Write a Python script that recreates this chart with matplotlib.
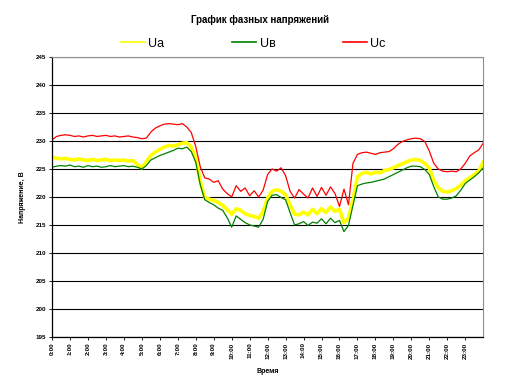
from matplotlib import pyplot as plt
import numpy as np

plt.rcParams['font.family'] = ['Liberation Sans', 'DejaVu Sans']

# phase voltages, one reading every 15 min from 0:00 to 24:00
Ua = [227.1, 226.9, 226.8, 226.9, 226.7, 226.6, 226.8, 226.6, 226.5, 226.7,
      226.5, 226.6, 226.7, 226.5, 226.6, 226.5, 226.6, 226.4, 226.5, 225.8,
      225.2, 226.3, 227.4, 228.0, 228.5, 228.9, 229.2, 229.1, 229.3, 229.6,
      229.7, 228.9, 227.0, 222.8, 219.9, 219.6, 219.4, 219.0, 218.5, 217.7,
      216.9, 217.9, 217.6, 217.0, 216.7, 216.5, 216.2, 217.4, 219.8, 221.0,
      221.3, 221.0, 220.4, 218.6, 216.9, 216.8, 217.3, 216.8, 217.8, 217.0,
      217.9, 217.2, 218.2, 217.4, 217.8, 215.4, 216.2, 219.5, 223.6, 224.2,
      224.4, 224.1, 224.4, 224.3, 224.7, 224.9, 225.2, 225.6, 225.9, 226.3,
      226.6, 226.7, 226.5, 226.0, 225.1, 223.0, 221.6, 221.0, 220.9, 221.1,
      221.5, 222.1, 222.9, 223.4, 224.0, 224.6, 226.2]
Ub = [225.3, 225.5, 225.6, 225.5, 225.7, 225.4, 225.5, 225.3, 225.6, 225.4,
      225.5, 225.3, 225.4, 225.6, 225.4, 225.5, 225.6, 225.4, 225.5, 225.3,
      225.0, 225.6, 226.6, 227.0, 227.4, 227.7, 228.0, 228.3, 228.7, 228.6,
      228.9, 228.1, 226.2, 222.2, 219.5, 219.0, 218.6, 218.0, 217.6, 216.3,
      214.6, 216.6, 216.0, 215.4, 215.0, 214.8, 214.6, 216.0, 219.2, 220.3,
      220.4, 219.9, 219.5, 217.2, 215.0, 215.2, 215.6, 214.9, 215.5, 215.3,
      216.1, 215.2, 216.2, 215.4, 215.8, 213.8, 214.9, 218.5, 222.0, 222.3,
      222.5, 222.6, 222.8, 223.0, 223.2, 223.6, 224.0, 224.4, 224.8, 225.2,
      225.5, 225.5, 225.4, 224.9, 224.0, 221.8, 220.0, 219.6, 219.6, 219.8,
      220.2, 221.2, 222.4, 223.0, 223.6, 224.3, 225.2]
Uc = [230.2, 230.8, 231.0, 231.1, 231.0, 230.8, 230.9, 230.7, 230.9, 231.0,
      230.8, 230.9, 231.0, 230.8, 230.9, 230.7, 230.8, 230.9, 230.7, 230.6,
      230.4, 230.5, 231.6, 232.3, 232.7, 233.0, 233.1, 233.0, 232.9, 233.1,
      232.5, 231.5, 229.0, 225.4, 223.4, 223.2, 222.6, 222.9, 221.4, 220.6,
      220.0, 222.0, 221.0, 221.6, 220.2, 221.1, 220.0, 221.2, 224.0, 225.0,
      224.6, 225.2, 223.8, 221.0, 219.8, 221.3, 220.5, 219.8, 221.6, 220.1,
      221.7, 220.3, 221.8, 220.6, 218.3, 221.4, 218.6, 226.0, 227.6, 227.9,
      228.0, 227.8, 227.6, 227.9, 228.0, 228.1, 228.6, 229.4, 229.9, 230.2,
      230.4, 230.5, 230.4, 229.9, 228.2, 226.0, 225.0, 224.6, 224.5, 224.6,
      224.5, 225.0, 226.0, 227.3, 227.9, 228.4, 229.6]
t = np.arange(len(Ua)) * 0.25          # hours

hours = list(range(24))
hour_labels = [str(h) + ':00' for h in hours]
yticks = list(range(195, 250, 5))

fig = plt.figure(figsize=(5.31, 3.85), dpi=100)
ax = fig.add_axes([0.098, 0.125, 0.812, 0.727])

ax.plot(t, Ua, color='#FFFF00', lw=2.6, label='Ua')
ax.plot(t, Ub, color='#008000', lw=0.9, label='Uв')
ax.plot(t, Uc, color='#FF0000', lw=0.9, label='Uc')

ax.set_xlim(0, 24)
ax.set_ylim(195, 245)
ax.set_yticks(yticks)
ax.set_yticklabels([str(v) for v in yticks], fontsize=4.5, fontweight='bold')
ax.set_xticks(hours)
ax.set_xticklabels(hour_labels, rotation=90, fontsize=4.5, fontweight='bold')
ax.tick_params(length=2, width=0.6, pad=2)
ax.grid(axis='y', color='black', lw=0.8)
ax.set_axisbelow(True)
for s in ['top', 'right']:
    ax.spines[s].set_color('#909090')
    ax.spines[s].set_linewidth(0.8)
for s in ['left', 'bottom']:
    ax.spines[s].set_color('black')
    ax.spines[s].set_linewidth(0.9)

ax.set_ylabel('Напряжение, В', fontsize=5, fontweight='bold', labelpad=7)
ax.set_xlabel('Время', fontsize=5, fontweight='bold')
ax.xaxis.set_label_coords(0.50, -0.11)

fig.text(0.49, 0.947, 'График фазных напряжений', ha='center', va='center',
         fontsize=7, fontweight='bold')
leg = fig.legend(loc='center', bbox_to_anchor=(0.477, 0.887), ncol=3,
                 frameon=False, fontsize=9, handlelength=1.9,
                 columnspacing=5.4, handletextpad=0.3)
for h in leg.legend_handles:
    h.set_linewidth(1.2)

plt.savefig('out.png', dpi=100)
